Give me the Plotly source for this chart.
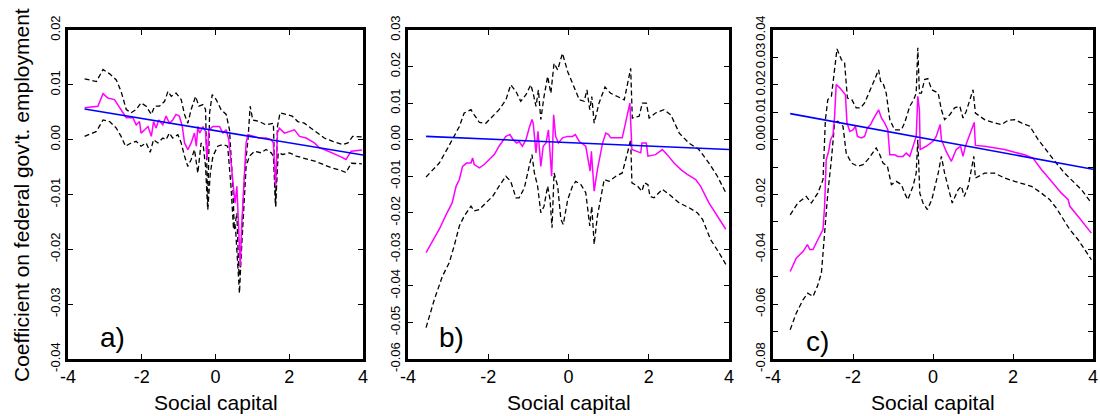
import plotly.graph_objects as go

# ---------------- Panel a ----------------
a_mid_x = [-3.55,-3.19,-3.05,-2.92,-2.74,-2.51,-2.42,-2.24,-2.15,-2.06,-2.02,-1.92,-1.83,-1.74,-1.68,-1.61,-1.54,-1.43,-1.34,-1.25,-1.16,-1.07,-0.98,-0.90,-0.84,-0.75,-0.66,-0.57,-0.52,-0.48,-0.43,-0.34,-0.27,-0.23,-0.18,-0.07,0.11,0.20,0.29,0.36,0.42,0.49,0.53,0.58,0.63,0.67,0.71,0.76,0.83,0.88,1.01,1.19,1.37,1.51,1.57,1.63,1.68,1.73,1.87,2.01,2.14,2.28,2.46,2.68,2.82,2.95,3.18,3.36,3.54,3.68,3.97]
a_mid_y = [0.0058,0.0061,0.0084,0.0076,0.0073,0.0049,0.0040,0.0040,0.0027,0.0033,0.0012,0.0018,0.0024,0.0006,0.0033,0.0021,0.0036,0.0027,0.0043,0.0030,0.0036,0.0046,0.0043,0.0024,-0.0006,-0.0018,-0.0006,0.0012,-0.0012,0.0024,0.0012,0.0024,0.0015,-0.0036,0.0018,0.0024,0.0024,0.0012,0.0018,0.0000,-0.0043,-0.0085,-0.0116,-0.0085,-0.0182,-0.0231,-0.0158,-0.0085,-0.0006,0.0009,0.0006,0.0003,0.0003,0.0000,-0.0006,-0.0085,0.0012,0.0021,0.0012,0.0015,0.0018,0.0006,0.0003,-0.0006,-0.0015,-0.0018,-0.0024,-0.0030,-0.0036,-0.0021,-0.0019]
a_up_x = [-3.55,-3.23,-3.05,-2.87,-2.69,-2.56,-2.42,-2.29,-2.15,-2.02,-1.88,-1.74,-1.65,-1.52,-1.38,-1.29,-1.20,-1.07,-0.93,-0.84,-0.75,-0.66,-0.54,-0.45,-0.34,-0.27,-0.21,-0.16,-0.09,0.02,0.15,0.29,0.38,0.47,0.51,0.58,0.63,0.66,0.71,0.79,0.88,0.94,1.01,1.19,1.37,1.51,1.57,1.63,1.68,1.75,1.92,2.08,2.23,2.41,2.59,2.77,2.95,3.18,3.45,3.59,3.72,3.97]
a_up_y = [0.0111,0.0106,0.0128,0.0120,0.0109,0.0088,0.0055,0.0049,0.0055,0.0067,0.0061,0.0046,0.0061,0.0061,0.0070,0.0088,0.0079,0.0085,0.0073,0.0046,0.0030,0.0055,0.0079,0.0061,0.0064,0.0055,-0.0122,0.0049,0.0082,0.0073,0.0055,0.0046,0.0018,-0.0085,-0.0164,-0.0134,-0.0237,-0.0249,-0.0170,-0.0061,0.0000,0.0061,0.0036,0.0033,0.0027,0.0030,0.0030,-0.0122,0.0024,0.0049,0.0046,0.0043,0.0033,0.0030,0.0021,0.0012,0.0003,-0.0003,-0.0009,-0.0006,0.0006,0.0005]
a_lo_x = [-3.55,-3.23,-3.05,-2.87,-2.69,-2.56,-2.44,-2.29,-2.15,-2.02,-1.88,-1.77,-1.68,-1.56,-1.43,-1.34,-1.25,-1.16,-1.02,-0.93,-0.84,-0.75,-0.66,-0.57,-0.48,-0.39,-0.33,-0.27,-0.21,-0.14,-0.07,0.06,0.20,0.33,0.42,0.49,0.54,0.60,0.65,0.70,0.76,0.83,0.92,1.06,1.24,1.37,1.51,1.57,1.63,1.70,1.82,2.01,2.19,2.37,2.55,2.73,2.95,3.18,3.36,3.54,3.68,3.97]
a_lo_y = [0.0006,0.0015,0.0036,0.0033,0.0021,0.0006,-0.0012,-0.0006,-0.0003,-0.0012,-0.0006,-0.0023,0.0000,-0.0006,0.0003,0.0000,0.0012,0.0003,0.0009,-0.0006,-0.0030,-0.0049,-0.0036,-0.0018,-0.0061,-0.0006,-0.0012,-0.0049,-0.0128,-0.0061,-0.0030,-0.0012,-0.0009,-0.0012,-0.0085,-0.0164,-0.0158,-0.0219,-0.0280,-0.0207,-0.0122,-0.0049,-0.0030,-0.0021,-0.0024,-0.0018,-0.0024,-0.0030,-0.0122,-0.0024,-0.0027,-0.0024,-0.0030,-0.0033,-0.0036,-0.0040,-0.0046,-0.0052,-0.0055,-0.0060,-0.0043,-0.0044]
a_fit_x = [-3.55, 4.0]
a_fit_y = [0.0056, -0.0028]

# ---------------- Panel b ----------------
b_mid_x = [-3.55,-3.22,-3.05,-2.90,-2.80,-2.72,-2.64,-2.54,-2.43,-2.39,-2.35,-2.22,-2.10,-1.98,-1.85,-1.73,-1.56,-1.46,-1.38,-1.29,-1.23,-1.15,-1.06,-0.98,-0.91,-0.88,-0.81,-0.76,-0.69,-0.63,-0.56,-0.50,-0.42,-0.37,-0.32,-0.25,-0.15,-0.02,0.10,0.17,0.27,0.43,0.54,0.57,0.64,0.72,0.85,0.93,1.00,1.05,1.34,1.53,1.58,1.80,1.83,1.94,1.98,2.17,2.34,2.46,2.63,2.80,2.96,3.17,3.29,3.50,3.71,3.92]
b_mid_y = [-0.0309,-0.0245,-0.0205,-0.0173,-0.0127,-0.0109,-0.0073,-0.0064,-0.0064,-0.0050,-0.0068,-0.0077,-0.0068,-0.0055,-0.0041,-0.0018,0.0009,0.0014,0.0000,-0.0009,-0.0005,-0.0018,0.0000,0.0032,0.0055,0.0045,-0.0036,0.0023,-0.0073,-0.0018,-0.0009,0.0027,-0.0100,0.0068,0.0009,-0.0009,0.0005,0.0009,0.0009,0.0014,-0.0005,-0.0018,-0.0086,-0.0032,-0.0141,-0.0082,-0.0009,0.0018,0.0014,0.0005,0.0005,0.0100,-0.0027,-0.0036,-0.0009,-0.0009,-0.0045,-0.0041,-0.0027,-0.0041,-0.0064,-0.0082,-0.0095,-0.0109,-0.0127,-0.0173,-0.0209,-0.0245]
b_up_x = [-3.55,-3.22,-3.01,-2.85,-2.72,-2.60,-2.43,-2.35,-2.22,-2.06,-1.89,-1.73,-1.56,-1.44,-1.31,-1.19,-1.06,-0.94,-0.88,-0.81,-0.75,-0.69,-0.61,-0.52,-0.44,-0.36,-0.27,-0.15,-0.02,0.10,0.27,0.39,0.46,0.53,0.58,0.64,0.76,0.91,1.05,1.22,1.39,1.55,1.59,1.76,1.84,1.94,2.01,2.17,2.38,2.55,2.76,3.00,3.25,3.50,3.71,3.92]
b_up_y = [-0.0102,-0.0064,-0.0023,0.0009,0.0036,0.0073,0.0082,0.0068,0.0047,0.0045,0.0064,0.0082,0.0109,0.0150,0.0132,0.0105,0.0123,0.0150,0.0127,0.0091,0.0136,0.0055,0.0118,0.0173,0.0127,0.0209,0.0191,0.0236,0.0186,0.0155,0.0109,0.0105,0.0136,0.0082,0.0118,0.0045,0.0100,0.0144,0.0127,0.0118,0.0109,0.0195,0.0059,0.0064,0.0100,0.0100,0.0059,0.0073,0.0082,0.0068,0.0018,-0.0009,-0.0027,-0.0064,-0.0100,-0.0145]
b_lo_x = [-3.55,-3.34,-3.14,-2.97,-2.85,-2.72,-2.60,-2.43,-2.35,-2.22,-2.06,-1.89,-1.73,-1.56,-1.44,-1.31,-1.23,-1.10,-0.98,-0.91,-0.85,-0.77,-0.69,-0.61,-0.52,-0.46,-0.41,-0.36,-0.27,-0.19,-0.13,-0.02,0.10,0.18,0.31,0.43,0.53,0.58,0.64,0.72,0.89,1.01,1.18,1.34,1.47,1.55,1.58,1.72,1.83,1.89,1.98,2.03,2.13,2.34,2.51,2.76,3.00,3.21,3.34,3.54,3.75,3.92]
b_lo_y = [-0.0514,-0.0436,-0.0373,-0.0336,-0.0291,-0.0236,-0.0209,-0.0182,-0.0195,-0.0191,-0.0173,-0.0155,-0.0127,-0.0100,-0.0114,-0.0159,-0.0159,-0.0132,-0.0073,-0.0041,-0.0091,-0.0127,-0.0200,-0.0182,-0.0127,-0.0164,-0.0241,-0.0091,-0.0127,-0.0218,-0.0232,-0.0164,-0.0127,-0.0114,-0.0123,-0.0145,-0.0236,-0.0182,-0.0286,-0.0209,-0.0109,-0.0114,-0.0100,-0.0091,-0.0036,0.0000,-0.0118,-0.0127,-0.0141,-0.0118,-0.0123,-0.0155,-0.0159,-0.0136,-0.0150,-0.0173,-0.0186,-0.0200,-0.0218,-0.0273,-0.0309,-0.0341]
b_fit_x = [-3.55, 4.0]
b_fit_y = [0.0009, -0.0027]

# ---------------- Panel c ----------------
c_mid_x = [-3.57,-3.42,-3.25,-3.14,-3.08,-3.00,-2.88,-2.75,-2.71,-2.67,-2.61,-2.56,-2.50,-2.46,-2.42,-2.33,-2.19,-2.15,-2.08,-2.00,-1.94,-1.89,-1.79,-1.71,-1.64,-1.56,-1.50,-1.42,-1.36,-1.29,-1.21,-1.13,-1.08,-0.96,-0.88,-0.75,-0.67,-0.58,-0.50,-0.42,-0.38,-0.34,-0.32,-0.17,0.00,0.08,0.18,0.21,0.33,0.46,0.58,0.69,0.75,0.81,1.03,1.06,1.29,1.54,1.79,2.04,2.29,2.50,2.71,2.96,3.21,3.38,3.42,3.63,3.96]
c_mid_y = [-0.0481,-0.0432,-0.0408,-0.0383,-0.0401,-0.0401,-0.0365,-0.0328,-0.0243,-0.0073,-0.0043,0.0000,0.0018,0.0085,0.0201,0.0189,0.0164,0.0061,0.0030,0.0036,0.0049,0.0012,0.0006,0.0012,0.0043,0.0055,0.0073,0.0091,0.0109,0.0079,0.0061,0.0036,-0.0055,-0.0055,-0.0061,-0.0061,-0.0049,-0.0061,-0.0024,0.0012,0.0158,0.0109,-0.0036,-0.0024,-0.0006,0.0012,0.0055,0.0000,-0.0043,-0.0079,-0.0036,-0.0024,-0.0061,-0.0024,0.0063,-0.0021,-0.0024,-0.0030,-0.0036,-0.0046,-0.0055,-0.0067,-0.0109,-0.0152,-0.0195,-0.0219,-0.0243,-0.0280,-0.0341]
c_up_x = [-3.57,-3.38,-3.17,-3.04,-2.88,-2.75,-2.69,-2.63,-2.54,-2.48,-2.40,-2.29,-2.21,-2.14,-2.03,-1.92,-1.81,-1.71,-1.58,-1.46,-1.36,-1.31,-1.25,-1.17,-1.08,-0.96,-0.79,-0.71,-0.58,-0.48,-0.42,-0.38,-0.34,-0.29,-0.21,-0.13,-0.03,0.13,0.21,0.29,0.42,0.54,0.67,0.75,0.83,1.00,1.06,1.29,1.54,1.71,1.88,2.04,2.21,2.42,2.63,2.88,3.08,3.29,3.50,3.71,3.96]
c_up_y = [-0.0274,-0.0231,-0.0207,-0.0231,-0.0195,-0.0146,0.0073,0.0146,0.0158,0.0243,0.0331,0.0292,0.0280,0.0152,0.0146,0.0116,0.0116,0.0134,0.0176,0.0219,0.0255,0.0213,0.0207,0.0170,0.0073,0.0036,0.0036,0.0061,0.0122,0.0146,0.0170,0.0335,0.0170,0.0170,0.0219,0.0223,0.0182,0.0170,0.0109,0.0073,0.0091,0.0116,0.0122,0.0079,0.0103,0.0182,0.0097,0.0073,0.0061,0.0055,0.0071,0.0073,0.0061,0.0049,0.0000,-0.0049,-0.0085,-0.0122,-0.0152,-0.0182,-0.0231]
c_lo_x = [-3.57,-3.42,-3.25,-3.13,-3.00,-2.89,-2.79,-2.71,-2.63,-2.54,-2.46,-2.38,-2.25,-2.17,-2.04,-1.88,-1.75,-1.63,-1.50,-1.42,-1.33,-1.25,-1.14,-1.04,-0.92,-0.79,-0.71,-0.63,-0.50,-0.42,-0.38,-0.33,-0.25,-0.14,-0.03,0.13,0.21,0.29,0.48,0.63,0.71,0.78,0.88,1.02,1.06,1.29,1.54,1.79,2.04,2.33,2.46,2.71,2.92,3.08,3.29,3.42,3.63,3.96]
c_lo_y = [-0.0693,-0.0633,-0.0584,-0.0560,-0.0572,-0.0535,-0.0487,-0.0341,-0.0195,-0.0073,0.0061,0.0067,0.0049,-0.0049,-0.0085,-0.0097,-0.0091,-0.0073,-0.0049,-0.0030,-0.0055,-0.0085,-0.0097,-0.0164,-0.0152,-0.0164,-0.0195,-0.0219,-0.0170,-0.0122,0.0000,-0.0195,-0.0231,-0.0255,-0.0219,-0.0122,-0.0061,-0.0122,-0.0231,-0.0182,-0.0170,-0.0207,-0.0170,-0.0061,-0.0140,-0.0122,-0.0122,-0.0140,-0.0152,-0.0164,-0.0170,-0.0195,-0.0219,-0.0249,-0.0298,-0.0328,-0.0365,-0.0438]
c_fit_x = [-3.57, 4.0]
c_fit_y = [0.0095, -0.0108]

# ---------------- Axis tick labels ----------------
x_ticks = [-4, -2, 0, 2, 4]
x_ticktext = ["-4", "-2", "0", "2", "4"]
a_yticks = [0.02, 0.01, 0.0, -0.01, -0.02, -0.03, -0.04]
a_yticktext = ["0.02", "0.01", "0.00", "-0.01", "-0.02", "-0.03", "-0.04"]
b_yticks = [0.03, 0.02, 0.01, 0.0, -0.01, -0.02, -0.03, -0.04, -0.05, -0.06]
b_yticktext = ["0.03", "0.02", "0.01", "0.00", "-0.01", "-0.02", "-0.03", "-0.04", "-0.05", "-0.06"]
c_yticks = [0.04, 0.03, 0.02, 0.01, 0.0, -0.01, -0.02, -0.03, -0.04, -0.05, -0.06, -0.07, -0.08]
c_yticktext = ["0.04", "0.03", "0.02", "0.01", "0.00", "", "-0.02", "", "-0.04", "", "-0.06", "", "-0.08"]

panel_labels = ["a)", "b)", "c)"]
x_title = "Social capital"
y_title = "Coefficient on federal gov't. employment"

FONT = "Liberation Sans, Arial, Helvetica, sans-serif"
W, H = 1100, 416
boxes = [(68, 363), (408, 729), (773, 1093)]
TOP, BOT = 30, 359

fig = go.Figure()
panels = [
    (a_mid_x, a_mid_y, a_up_x, a_up_y, a_lo_x, a_lo_y, a_fit_x, a_fit_y, [-0.04, 0.02], a_yticks, a_yticktext),
    (b_mid_x, b_mid_y, b_up_x, b_up_y, b_lo_x, b_lo_y, b_fit_x, b_fit_y, [-0.06, 0.03], b_yticks, b_yticktext),
    (c_mid_x, c_mid_y, c_up_x, c_up_y, c_lo_x, c_lo_y, c_fit_x, c_fit_y, [-0.08, 0.04], c_yticks, c_yticktext),
]
label_pos = [(98, 337), (437, 337), (804, 341)]

for i, (mx, my, ux, uy, lx, ly, fx, fy, yr, yt, ytt) in enumerate(panels):
    xa = "x" if i == 0 else f"x{i+1}"
    ya = "y" if i == 0 else f"y{i+1}"
    dash = dict(color="black", width=1.3, dash="5px,3px")
    fig.add_trace(go.Scatter(x=ux, y=uy, mode="lines", line=dash, xaxis=xa, yaxis=ya, showlegend=False))
    fig.add_trace(go.Scatter(x=lx, y=ly, mode="lines", line=dash, xaxis=xa, yaxis=ya, showlegend=False))
    fig.add_trace(go.Scatter(x=mx, y=my, mode="lines", line=dict(color="#ff00ff", width=1.5),
                             xaxis=xa, yaxis=ya, showlegend=False))
    fig.add_trace(go.Scatter(x=fx, y=fy, mode="lines", line=dict(color="#0000ff", width=1.6),
                             xaxis=xa, yaxis=ya, showlegend=False))
    l, r = boxes[i]
    axis_common = dict(showline=True, linecolor="black", linewidth=2.5, mirror="allticks",
                       ticks="inside", ticklen=5, tickwidth=1, tickcolor="black",
                       showgrid=False, zeroline=False, automargin=False)
    xkey = "xaxis" if i == 0 else f"xaxis{i+1}"
    ykey = "yaxis" if i == 0 else f"yaxis{i+1}"
    fig.update_layout(**{
        xkey: dict(domain=[l / W, r / W], range=[-4, 4], anchor=ya,
                   tickvals=x_ticks, ticktext=x_ticktext,
                   tickfont=dict(family=FONT, size=18, color="black"), **axis_common),
        ykey: dict(domain=[1 - BOT / H, 1 - TOP / H], range=yr, anchor=xa,
                   tickvals=yt, ticktext=ytt, tickangle=-90,
                   tickfont=dict(family=FONT, size=13, color="black"), **axis_common),
    })
    px, py = label_pos[i]
    fig.add_annotation(text=panel_labels[i], x=px / W, y=1 - py / H, xref="paper", yref="paper",
                       xanchor="left", yanchor="middle", showarrow=False,
                       font=dict(family=FONT, size=28, color="black"))
    fig.add_annotation(text=x_title, x=(l + r) / 2 / W, y=1 - 402 / H, xref="paper", yref="paper",
                       xanchor="center", yanchor="middle", showarrow=False,
                       font=dict(family=FONT, size=21, color="black"))

fig.add_annotation(text=y_title, x=21 / W, y=1 - 195 / H, xref="paper", yref="paper",
                   xanchor="center", yanchor="middle", textangle=-90, showarrow=False,
                   font=dict(family=FONT, size=21, color="black"))

fig.update_layout(width=W, height=H, margin=dict(l=0, r=0, t=0, b=0, autoexpand=False),
                  paper_bgcolor="white", plot_bgcolor="white", showlegend=False)

fig.write_html("out.html")
